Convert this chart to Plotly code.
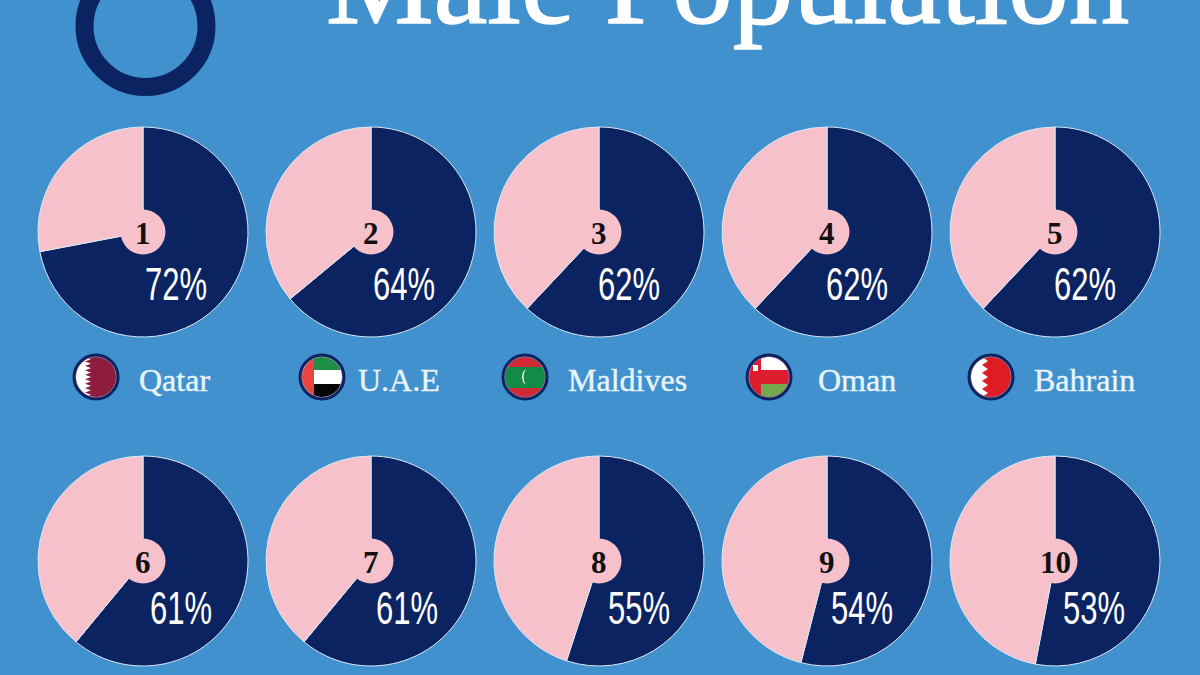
import math
import plotly.graph_objects as go

# Share of male residents by country, ranked
ranks = [1, 2, 3, 4, 5, 6, 7, 8, 9, 10]
male_pct = [72, 64, 62, 62, 62, 61, 61, 55, 54, 53]
title_text = "Male Population"
row1_countries = ["Qatar", "U.A.E", "Maldives", "Oman", "Bahrain"]

W, H = 1200, 675
BG = "#4091cd"
NAVY = "#0b2361"
PINK = "#f6c1ca"
SERIF = "Liberation Serif"
SANS = "Liberation Sans"

COL_X = [143, 371, 599, 827, 1055]
ROW_Y = [232, 561]
PIE_R = 105
HUB_R = 22.5
PCT_POS = [(176, 283), (404, 283), (629, 283), (857, 283), (1085, 283),
           (181, 607), (407, 607), (639, 607), (862, 607), (1094, 607)]
LABEL_X = [174, 399, 627, 857, 1084]
FLAG_X = [96, 322, 525, 769, 991]
FLAG_Y = 377
FLAG_R = 20

# Condensed percentages and heavier serif text, which the installed fonts lack
TEXT_CSS = """
.annotation-text[data-unformatted$="%"] {
  transform-box: fill-box; transform-origin: center; transform: scaleX(0.66);
}
.annotation-text[data-unformatted="Male Population"] {
  stroke: #ffffff; stroke-width: 1.6px;
}
.annotation-text[data-unformatted="Qatar"], .annotation-text[data-unformatted="U.A.E"],
.annotation-text[data-unformatted="Maldives"], .annotation-text[data-unformatted="Oman"],
.annotation-text[data-unformatted="Bahrain"] {
  stroke: #e8f4fb; stroke-width: 0.4px;
}
"""


def px(x):
    return x / W


def py(y):
    return 1 - y / H


def circle(cx, cy, r, fill="rgba(0,0,0,0)", line=None, width=0):
    return dict(type="circle", xref="paper", yref="paper",
                x0=px(cx - r), x1=px(cx + r), y0=py(cy + r), y1=py(cy - r),
                fillcolor=fill, line=dict(color=line or fill, width=width))


def clipped(cx, cy, r, pts, fill):
    """Closed polygon, given relative to the badge centre, held inside its circle."""
    out = []
    for i, (x0, y0) in enumerate(pts):
        x1, y1 = pts[(i + 1) % len(pts)]
        for k in range(24):
            t = k / 24
            x, y = x0 + (x1 - x0) * t, y0 + (y1 - y0) * t
            d = math.hypot(x, y)
            if d > r:
                x, y = x * r / d, y * r / d
            out.append((cx + x, cy + y))
    path = "M" + "L".join(f"{px(x):.5f},{py(y):.5f}" for x, y in out) + "Z"
    return dict(type="path", xref="paper", yref="paper", path=path,
                fillcolor=fill, line=dict(width=0))


def rect(x0, y0, x1, y1):
    return [(x0, y0), (x1, y0), (x1, y1), (x0, y1)]


def serrated(x_in, x_out, teeth, r):
    pts = [(-r - 5, -r - 5), (x_in, -r - 5)]
    step = 2 * r / teeth
    for i in range(teeth):
        top = -r + i * step
        pts += [(x_in, top), (x_out, top + step / 2)]
    pts += [(x_in, r), (x_in, r + 5), (-r - 5, r + 5)]
    return pts


def flag_shapes(name, cx, cy):
    r = FLAG_R
    big = r + 5
    s = []
    if name == "Qatar":
        s.append(circle(cx, cy, r, "#8e1c3c"))
        s.append(clipped(cx, cy, r, serrated(-11, -5, 9, r), "#ffffff"))
    elif name == "U.A.E":
        s.append(circle(cx, cy, r, "#ffffff"))
        s.append(clipped(cx, cy, r, rect(-8, -big, big, -7), "#1f8f45"))
        s.append(clipped(cx, cy, r, rect(-8, 7, big, big), "#050505"))
        s.append(clipped(cx, cy, r, rect(-big, -big, -8, big), "#ea4440"))
    elif name == "Maldives":
        s.append(circle(cx, cy, r, "#cf2a35"))
        s.append(clipped(cx, cy, r, rect(-big, -10, big, 11), "#138a45"))
        crescent = [(1, -8), (-2, -5), (-3, 0), (-2, 5), (1, 8), (-1, 4), (-1.5, 0), (-1, -4)]
        s.append(clipped(cx, cy, r, crescent, "#ffffff"))
    elif name == "Oman":
        s.append(circle(cx, cy, r, "#dd1c2e"))
        s.append(clipped(cx, cy, r, rect(-8, -big, big, -7), "#ffffff"))
        s.append(clipped(cx, cy, r, rect(-8, 7, big, big), "#74a84e"))
        s.append(clipped(cx, cy, r, rect(-16, -12, -11, -6), "#ffffff"))
    elif name == "Bahrain":
        s.append(circle(cx, cy, r, "#dd1c24"))
        s.append(clipped(cx, cy, r, serrated(-9, -3, 5, r), "#ffffff"))
    s.append(circle(cx, cy, r + 0.5, line="#b98aa8", width=1))
    s.append(circle(cx, cy, r + 2, line=NAVY, width=3))
    return s


def label(x, y, text, family, size, color):
    return dict(xref="paper", yref="paper", x=px(x), y=py(y), text=text, showarrow=False,
                xanchor="center", yanchor="middle",
                font=dict(family=family, size=size, color=color))


fig = go.Figure()
centers = [(x, y) for y in ROW_Y for x in COL_X]

for rank, pct, (cx, cy) in zip(ranks, male_pct, centers):
    fig.add_trace(go.Pie(
        values=[pct, 100 - pct],
        labels=["Male", "Female"],
        sort=False,
        direction="clockwise",
        rotation=0,
        textinfo="none",
        showlegend=False,
        marker=dict(colors=[NAVY, PINK], line=dict(color="#dbe9f5", width=1)),
        domain=dict(x=[px(cx - PIE_R), px(cx + PIE_R)],
                    y=[py(cy + PIE_R), py(cy - PIE_R)]),
    ))

# Ring beside the heading
shapes = [circle(145.5, 26, 61, line=NAVY, width=18)]
# Pink hub holding each rank
shapes += [circle(cx, cy, HUB_R, PINK) for cx, cy in centers]
for name, fx in zip(row1_countries, FLAG_X):
    shapes += flag_shapes(name, fx, FLAG_Y)

annotations = [label(727, -18, title_text, SERIF, 121, "#ffffff")]

for rank, pct, (cx, cy), (tx, ty) in zip(ranks, male_pct, centers, PCT_POS):
    annotations.append(label(cx, cy + 1, f"<b>{rank}</b>", SERIF, 31, "#111111"))
    annotations.append(label(tx, ty, f"{pct}%", SANS, 47, "#ffffff"))

for name, lx in zip(row1_countries, LABEL_X):
    annotations.append(label(lx, FLAG_Y + 3, name, SERIF, 32, "#e8f4fb"))

fig.update_layout(width=W, height=H, margin=dict(l=0, r=0, t=0, b=0),
                  paper_bgcolor=BG, plot_bgcolor=BG,
                  shapes=shapes, annotations=annotations)

inject = ("var s=document.createElement('style');s.textContent=" + repr(TEXT_CSS.replace("\n", " "))
          + ";document.head.appendChild(s);")
fig.write_html("out.html", config=dict(displayModeBar=False), post_script=inject)
